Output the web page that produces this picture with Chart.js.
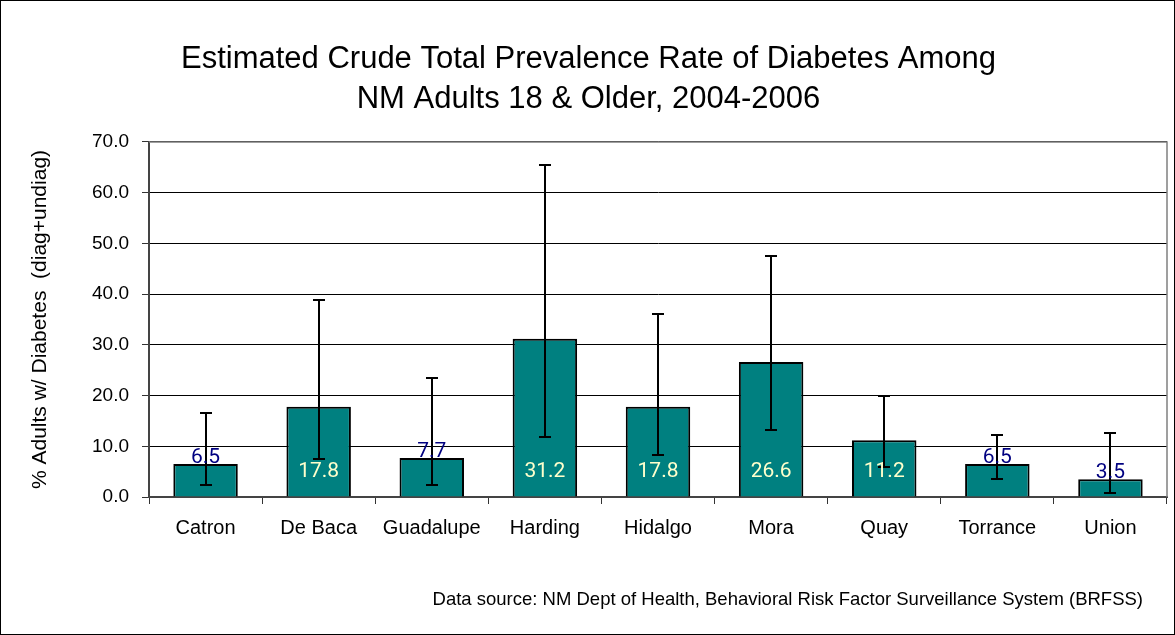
<!DOCTYPE html>
<html>
<head>
<meta charset="utf-8">
<script src="https://cdn.jsdelivr.net/npm/chart.js@4/dist/chart.umd.min.js"></script>
<style>
  html, body { margin: 0; padding: 0; background: #fff; }
  canvas { display: block; }
</style>
</head>
<body>
<canvas id="chart" width="1175" height="635"></canvas>
<script>
const counties = ["Catron", "De Baca", "Guadalupe", "Harding", "Hidalgo", "Mora", "Quay", "Torrance", "Union"];
const prevalence = [6.5, 17.8, 7.7, 31.2, 17.8, 26.6, 11.2, 6.5, 3.5];
const upperCI = [16.5, 38.8, 23.5, 65.4, 36.0, 47.5, 20.0, 12.2, 12.6];
const lowerCI = [2.4, 7.4, 2.4, 11.8, 8.2, 13.3, 5.9, 3.5, 0.8];
const yTicks = [0, 10, 20, 30, 40, 50, 60, 70];
const sourceNote = "Data source: NM Dept of Health, Behavioral Risk Factor Surveillance System (BRFSS)";

const FONT = "'Liberation Sans', Arial, sans-serif";
const LABEL_FONT = "'Roboto', 'Liberation Sans', sans-serif";

// outer frame, plot frame, error bars, value labels, source note
const extras = {
	id: "extras",
	beforeDraw(chart) {
		const ctx = chart.ctx;
		ctx.save();
		ctx.fillStyle = "#fff";
		ctx.fillRect(0, 0, chart.width, chart.height);
		ctx.strokeStyle = "#000";
		ctx.lineWidth = 1;
		ctx.strokeRect(0.5, 0.5, chart.width - 1, chart.height - 1);
		ctx.restore();
	},
	afterDatasetsDraw(chart) {
		const ctx = chart.ctx;
		const y = chart.scales.y;
		const area = chart.chartArea;
		const bars = chart.getDatasetMeta(0).data;

		ctx.save();
		ctx.strokeStyle = "#808080";
		ctx.lineWidth = 1.5;
		ctx.beginPath();
		ctx.moveTo(area.left, area.top);
		ctx.lineTo(area.right, area.top);
		ctx.lineTo(area.right, area.bottom);
		ctx.stroke();

		ctx.strokeStyle = "#000";
		ctx.lineWidth = 2;
		bars.forEach((bar, i) => {
			const cx = Math.round(bar.x);
			const yt = Math.round(y.getPixelForValue(upperCI[i]));
			const yb = Math.round(y.getPixelForValue(lowerCI[i]));
			ctx.beginPath();
			ctx.moveTo(cx, yt);
			ctx.lineTo(cx, yb);
			ctx.moveTo(cx - 6, yt);
			ctx.lineTo(cx + 6, yt);
			ctx.moveTo(cx - 6, yb);
			ctx.lineTo(cx + 6, yb);
			ctx.stroke();
		});

		ctx.font = "21px " + LABEL_FONT;
		ctx.textAlign = "center";
		ctx.textBaseline = "alphabetic";
		bars.forEach((bar, i) => {
			const v = prevalence[i];
			const label = v.toFixed(1);
			if (v < 10) {
				ctx.fillStyle = "#000080";
				ctx.fillText(label, bar.x, bar.y - 1);
			} else {
				ctx.fillStyle = "#FFFFCC";
				ctx.fillText(label, bar.x, y.getPixelForValue(0) - 20);
			}
		});

		ctx.fillStyle = "#000";
		ctx.font = "18.5px " + FONT;
		ctx.textAlign = "right";
		ctx.fillText(sourceNote, 1143, 605);
		ctx.restore();
	},
};

new Chart(document.getElementById("chart"), {
	type: "bar",
	data: {
		labels: counties,
		datasets: [
			{
				data: prevalence,
				backgroundColor: "#008080",
				borderColor: "#000",
				borderWidth: 2,
				barPercentage: 0.57,
				categoryPercentage: 1,
			},
		],
	},
	options: {
		animation: false,
		responsive: false,
		layout: {
			padding: { left: 10, right: 8, top: 0, bottom: 78 },
		},
		plugins: {
			legend: { display: false },
			tooltip: { enabled: false },
			title: {
				display: true,
				text: ["Estimated Crude Total Prevalence Rate of Diabetes Among", "NM Adults 18 & Older, 2004-2006"],
				color: "#000",
				font: { family: FONT, size: 31, weight: "normal", lineHeight: 1.29 },
				padding: { top: 39, bottom: 23 },
			},
		},
		scales: {
			x: {
				offset: true,
				afterFit: (s) => { s.height = 60; },
				grid: {
					offset: true,
					drawOnChartArea: false,
					drawTicks: true,
					tickLength: 7,
					color: "#333",
				},
				border: { color: "#444", width: 2 },
				ticks: {
					color: "#000",
					padding: 12,
					font: { family: FONT, size: 20 },
				},
			},
			y: {
				min: 0,
				max: 70,
				afterFit: (s) => { s.width = 139; },
				afterBuildTicks: (s) => { s.ticks = yTicks.map((v) => ({ value: v })); },
				grid: {
					color: "#000",
					lineWidth: 1,
					drawTicks: true,
					tickLength: 7,
					tickColor: "#333",
				},
				border: { color: "#444", width: 2 },
				title: {
					display: true,
					text: "% Adults w/ Diabetes  (diag+undiag)",
					color: "#000",
					font: { family: FONT, size: 21 },
					padding: { top: 18, bottom: 0 },
				},
				ticks: {
					color: "#000",
					padding: 13,
					font: { family: FONT, size: 19 },
					callback: (v) => Number(v).toFixed(1),
				},
			},
		},
	},
	plugins: [extras],
});
</script>
</body>
</html>
